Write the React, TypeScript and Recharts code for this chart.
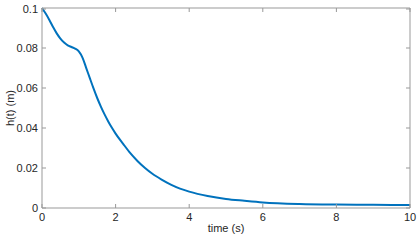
import { LineChart, Line, XAxis, YAxis } from 'recharts'

const times = [
  0, 0.1, 0.2, 0.3, 0.4, 0.5, 0.6, 0.7, 0.8, 0.9, 1.0, 1.1, 1.2, 1.3, 1.4, 1.5,
  1.6, 1.7, 1.8, 1.9, 2.0, 2.2, 2.4, 2.6, 2.8, 3.0, 3.25, 3.5, 3.75, 4.0, 4.5,
  5.0, 5.5, 6.0, 7.0, 8.0, 9.0, 10.0,
]
const heights = [
  0.1, 0.0972, 0.094, 0.0905, 0.0873, 0.0847, 0.0827, 0.0813, 0.0805, 0.0797,
  0.0783, 0.0752, 0.0701, 0.0649, 0.0598, 0.055, 0.0507, 0.0468, 0.0433, 0.0401,
  0.0372, 0.0322, 0.0274, 0.0234, 0.02, 0.0171, 0.0142, 0.0117, 0.0097, 0.0082,
  0.006, 0.0045, 0.0036, 0.0028, 0.002, 0.0017, 0.0016, 0.0015,
]
const xTicks = [0, 2, 4, 6, 8, 10]
const yTicks = [0, 0.02, 0.04, 0.06, 0.08, 0.1]

const data = times.map((t, i) => ({ t, h: heights[i] }))

const AXIS = '#999999'
const TEXT = '#262626'
const FONT = '"Liberation Sans", Arial, sans-serif'

function BottomTick({ x, y, payload }: any) {
  return (
    <g>
      <line x1={x} x2={x} y1={y} y2={y - 4} stroke={AXIS} />
      <text x={x} y={y + 13} textAnchor="middle" fontSize={11} fill={TEXT} fontFamily={FONT}>
        {payload.value}
      </text>
    </g>
  )
}

function TopTick({ x, y }: any) {
  return <line x1={x} x2={x} y1={y} y2={y + 4} stroke={AXIS} />
}

function LeftTick({ x, y, payload }: any) {
  return (
    <g>
      <line x1={x} x2={x + 4} y1={y} y2={y} stroke={AXIS} />
      <text x={x - 4} y={y + 4} textAnchor="end" fontSize={11} fill={TEXT} fontFamily={FONT}>
        {String(payload.value)}
      </text>
    </g>
  )
}

function RightTick({ x, y }: any) {
  return <line x1={x} x2={x - 4} y1={y} y2={y} stroke={AXIS} />
}

export default function App() {
  return (
    <div style={{ width: 420, height: 241 }}>
      <style>{'body{margin:0}'}</style>
      <LineChart
        width={420}
        height={241}
        data={data}
        margin={{ top: 7, right: 9, bottom: 0, left: 0 }}
      >
        <XAxis
          dataKey="t"
          type="number"
          domain={[0, 10]}
          ticks={xTicks}
          height={33}
          tickSize={0}
          tickMargin={0}
          tickLine={false}
          stroke={AXIS}
          tick={<BottomTick />}
          label={{
            value: 'time (s)',
            position: 'insideBottom',
            offset: 9,
            fontSize: 11,
            fill: TEXT,
            fontFamily: FONT,
          }}
        />
        <XAxis
          xAxisId="top"
          orientation="top"
          dataKey="t"
          type="number"
          domain={[0, 10]}
          ticks={xTicks}
          height={1}
          tickSize={0}
          tickMargin={0}
          tickLine={false}
          stroke={AXIS}
          tick={<TopTick />}
        />
        <YAxis
          type="number"
          domain={[0, 0.1]}
          ticks={yTicks}
          width={42}
          tickSize={0}
          tickMargin={0}
          tickLine={false}
          stroke={AXIS}
          tick={<LeftTick />}
          label={{
            value: 'h(t) (m)',
            angle: -90,
            position: 'insideLeft',
            offset: 10,
            fontSize: 11,
            fill: TEXT,
            fontFamily: FONT,
            style: { textAnchor: 'middle' },
          }}
        />
        <YAxis
          yAxisId="right"
          orientation="right"
          type="number"
          domain={[0, 0.1]}
          ticks={yTicks}
          width={1}
          tickSize={0}
          tickMargin={0}
          tickLine={false}
          stroke={AXIS}
          tick={<RightTick />}
        />
        <Line
          type="monotone"
          dataKey="h"
          stroke="#0072BD"
          strokeWidth={2}
          dot={false}
          isAnimationActive={false}
        />
        <Line
          xAxisId="top"
          yAxisId="right"
          dataKey="h"
          stroke="none"
          dot={false}
          legendType="none"
          isAnimationActive={false}
        />
      </LineChart>
    </div>
  )
}
